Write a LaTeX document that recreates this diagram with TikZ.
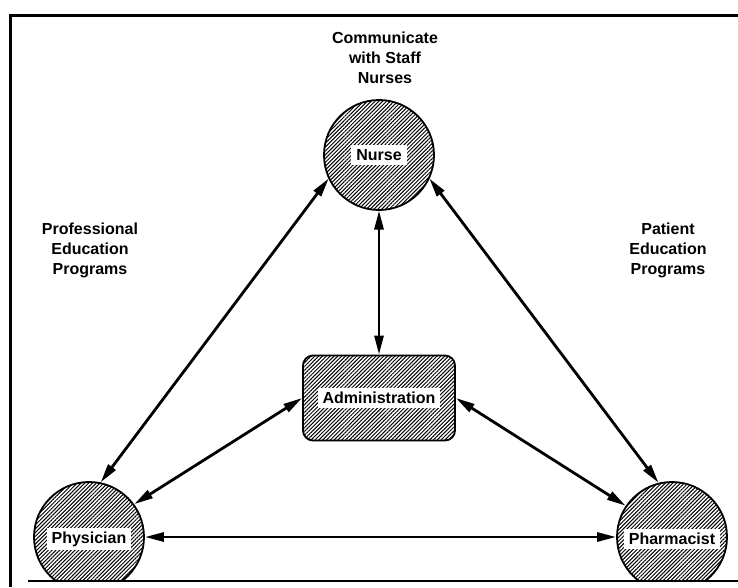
\documentclass[tikz,border=0pt]{standalone}
\usepackage{fontspec}
\setmainfont{Liberation Sans}
\usetikzlibrary{arrows.meta,patterns.meta}
\tikzset{
  hatchfill/.style={pattern={Lines[angle=45,distance=2.7pt,line width=1pt]}},
  actor/.style={circle,draw,line width=1.8pt,minimum size=110pt,inner sep=0pt},
  lbl/.style={fill=white,inner xsep=5pt,inner ysep=4pt,font=\bfseries\fontsize{16}{19}\selectfont},
  note/.style={align=center,font=\bfseries\fontsize{16}{20}\selectfont},
  link/.style={line width=2.8pt,{Triangle[length=19pt,width=9pt]}-{Triangle[length=19pt,width=9pt]}},
  frame/.style={line width=3pt}
}
\begin{document}
\begin{tikzpicture}[x=1pt,y=-1pt]
\useasboundingbox (0,0) rectangle (738,587);
% frame
\draw[frame] (10,587) -- (10,15) -- (738,15);
% circles (lower two clipped at the base line)
\begin{scope}
\clip (0,0) rectangle (738,581);
\node[actor,hatchfill] (nurse) at (379,155) {};
\node[actor,hatchfill] (phys) at (89,537) {};
\node[actor,hatchfill] (pharm) at (672,537) {};
\end{scope}
\draw[line width=2.2pt] (28,581) -- (738,581);
\node[lbl] at (nurse.center) {Nurse};
\node[lbl] at ([yshift=-2pt]phys.center) {Physician};
\node[lbl] at ([yshift=-2pt]pharm.center) {Pharmacist};
% administration
\node[draw,line width=1.8pt,rounded corners=10pt,hatchfill,minimum width=152pt,minimum height=85pt] (admin) at (379,398) {};
\node[lbl] at (admin.center) {Administration};
% texts
\node[note] (t1) at (385,58) {Communicate\\with Staff\\Nurses};
\node[note] (t2) at (90,250) {Professional\\Education\\Programs};
\node[note] (t3) at (668,250) {Patient\\Education\\Programs};
% connectors
\draw[link] (nurse.205) -- (phys.78);
\draw[link] (nurse.335) -- (pharm.104);
\draw[link] (nurse.south) -- (admin.north);
\draw[link] (admin.west) -- (phys.36);
\draw[link] (admin.east) -- (pharm.146);
\draw[link] (phys.east) -- (pharm.west);
\end{tikzpicture}
\end{document}
